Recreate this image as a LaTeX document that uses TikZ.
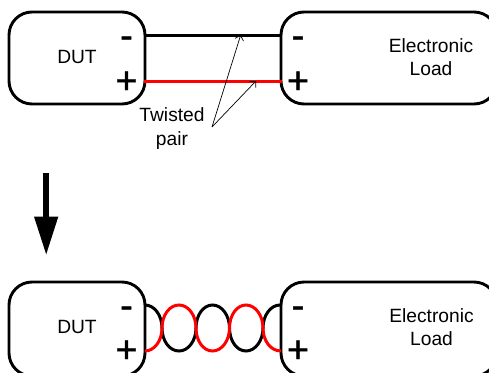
\documentclass[tikz,border=0pt]{standalone}
\usepackage{fontspec}
\setmainfont{Liberation Sans}
\newfontfamily\signfont[FakeBold=0.8]{Liberation Sans}
\usetikzlibrary{arrows.meta}
\definecolor{wirered}{RGB}{255,0,0}
\tikzset{
  unit/.style={draw=black,line width=2.9pt,rounded corners=23pt},
  lbl/.style={font=\fontsize{19.2}{23.5}\selectfont,align=center,text=black,inner sep=0pt},
  sign/.style={font=\signfont\fontsize{38}{38}\selectfont,inner sep=0pt,anchor=base},
  wire/.style={line width=3pt},
  blackwire/.style={wire,draw=black},
  redwire/.style={wire,draw=wirered},
  thin arrow/.style={line width=0.7pt,-{Straight Barb[length=4.5pt,width=9pt]}},
}
\newcommand{\twistpath}[1]{%
  \draw[#1] (145,305) .. controls (154.4,305) and (162,315.3) .. (162,328)
    .. controls (162,340.7) and (169.4,351) .. (179,351)
    .. controls (188.4,351) and (196,340.7) .. (196,328)
    .. controls (196,315.3) and (203.2,305) .. (212.5,305)
    .. controls (221.8,305) and (229.5,315.3) .. (229.5,328)
    .. controls (229.5,340.7) and (236.7,351) .. (246,351)
    .. controls (255.3,351) and (263,340.7) .. (263,328)
    .. controls (263,315.3) and (270.6,305) .. (280,305);}
\newcommand{\twistpathr}[1]{%
  \draw[#1] (145,351) .. controls (154.4,351) and (162,340.7) .. (162,328)
    .. controls (162,315.3) and (169.4,305) .. (179,305)
    .. controls (188.4,305) and (196,315.3) .. (196,328)
    .. controls (196,340.7) and (203.2,351) .. (212.5,351)
    .. controls (221.8,351) and (229.5,340.7) .. (229.5,328)
    .. controls (229.5,315.3) and (236.7,305) .. (246,305)
    .. controls (255.3,305) and (263,315.3) .. (263,328)
    .. controls (263,340.7) and (270.6,351) .. (281,351);}
\begin{document}
\begin{tikzpicture}[x=1pt,y=-1pt]
\useasboundingbox (0,0) rectangle (489,372);
% top
\draw[unit] (9,12) rectangle (145,104);
\draw[unit] (281,12) rectangle (497,104);
\node[lbl] (dut1) at (77,56.5) {DUT};
\node[lbl] (load1) at (431,57) {Electronic\\Load};
\node[sign] (m1) at (126.5,48.2) {-};
\node[sign] (p1) at (126.5,93.4) {+};
\node[sign] (m2) at (298,48.2) {-};
\node[sign] (p2) at (298,93.4) {+};
\coordinate (a1) at (145,35.3); \coordinate (a2) at (281,35.3);
\coordinate (b1) at (143.5,81); \coordinate (b2) at (282,81);
\draw[blackwire] (a1) -- (a2);
\draw[redwire] (b1) -- (b2);
\node[lbl] (tp) at (172,128.5) {Twisted\\pair};
\coordinate (tip) at (212,127);
\coordinate (t1) at (240.7,35);
\coordinate (t2) at (256,81);
\draw[thin arrow] (tip) -- (t1);
\draw[thin arrow] (tip) -- (t2);
% arrow
\fill (43.3,172.7) rectangle (49,217.5);
\fill (34,216.7) -- (58.3,216.7) -- (46.2,254.3) -- cycle;
% bottom
\draw[unit] (9,282) rectangle (145,376);
\draw[unit] (281,282) rectangle (497,376);
\node[lbl] (dut2) at (77,326.5) {DUT};
\node[lbl] (load2) at (431.5,327) {Electronic\\Load};
\node[sign] (m3) at (126.5,318.2) {-};
\node[sign] (p3) at (126.5,362.4) {+};
\node[sign] (m4) at (298,318.2) {-};
\node[sign] (p4) at (298,362.4) {+};
\twistpath{blackwire}
\twistpathr{redwire}
\end{tikzpicture}
\end{document}
